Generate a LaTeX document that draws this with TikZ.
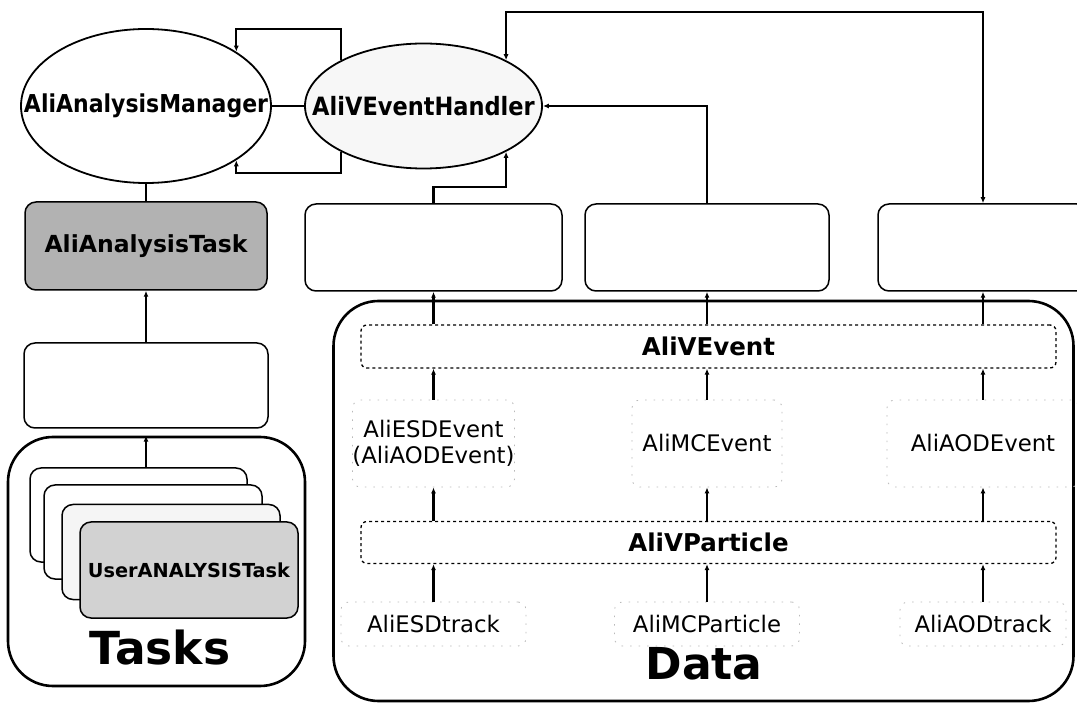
\documentclass[tikz,border=0pt]{standalone}
\usepackage{fontspec}
\setmainfont{DejaVu Sans}
\usetikzlibrary{arrows.meta,shapes.geometric}
\begin{document}
\begin{tikzpicture}[x=1pt,y=-1pt,
  conn/.style={line width=2.2pt},
  arr/.style={conn,-{Latex[length=6pt,width=5pt]}},
  biarr/.style={conn,{Latex[length=6pt,width=5pt]}-{Latex[length=6pt,width=5pt]}},
  ell/.style={draw,ellipse,line width=1.8pt,inner sep=0pt},
  rbox/.style={draw,rounded corners=11pt,line width=1.5pt,inner sep=0pt},
  bar/.style={draw,rounded corners=6pt,line width=1.3pt,dashed,inner sep=0pt,font=\bfseries\fontsize{24.5}{28}\selectfont},
  cont/.style={draw,rounded corners=45pt,line width=2.6pt,inner sep=0pt},
  faint/.style={draw=gray!55,rounded corners=8pt,line width=0.8pt,dash pattern=on 1.5pt off 7pt,inner sep=0pt},
  bl/.style={font=\bfseries\fontsize{22}{26}\selectfont},
  rl/.style={font=\fontsize{22.8}{25.5}\selectfont,align=center},
  bigl/.style={font=\bfseries\fontsize{45.5}{50}\selectfont},
]
\path[use as bounding box,fill=white] (0,0) rectangle (1077,708);

% ellipses
\node[ell,minimum width=250pt,minimum height=154pt] (aam) at (146,106) {};
\node[ell,fill=gray!6,minimum width=237pt,minimum height=125pt] (aveh) at (423.5,106) {};
\node[bl] (aamt) at (aam) {\scalebox{1}[1.12]{AliAnalysisManager}};
\node[bl,font=\bfseries\fontsize{22.5}{26}\selectfont] (aveht) at (aveh) {\scalebox{1}[1.12]{AliVEventHandler}};

% row of boxes
\node[rbox,minimum width=257pt,minimum height=87pt] (boxA) at (433.5,247.5) {};
\node[rbox,minimum width=244pt,minimum height=87pt] (boxB) at (707,247.5) {};
\node[rbox,minimum width=210pt,minimum height=87pt] (boxC) at (983,247.5) {};

% tasks column
\node[rbox,fill=gray!60,minimum width=242pt,minimum height=88pt,font=\bfseries\fontsize{23.5}{27}\selectfont] (task) at (146,246) {AliAnalysisTask};
\node[rbox,minimum width=244pt,minimum height=85pt] (mid) at (146,385.5) {};
\node[cont,minimum width=297pt,minimum height=249pt] (tasks) at (156.5,561.5) {};
\node[rbox,fill=white,minimum width=217pt,minimum height=94pt] (c1) at (138.5,515) {};
\node[rbox,fill=white,minimum width=218pt,minimum height=94pt] (c2) at (153,532) {};
\node[rbox,fill=gray!8,minimum width=218pt,minimum height=95pt] (c3) at (171,552) {};
\node[rbox,fill=gray!35,minimum width=218pt,minimum height=96pt,font=\bfseries\fontsize{19.3}{23}\selectfont] (c4) at (189,570) {UserANALYSISTask};
\node[bigl] (tasksl) at (160,648) {Tasks};

% data
\node[cont,minimum width=740pt,minimum height=400pt] (data) at (703.5,501) {};
\node[bar,minimum width=695pt,minimum height=43pt] (ev) at (708.5,346.5) {AliVEvent};
\node[bar,minimum width=695pt,minimum height=42pt] (vp) at (708.5,542.5) {AliVParticle};
\node[faint,rl,minimum width=140pt,minimum height=87pt] (esd) at (433.5,443.5) {AliESDEvent\\(AliAODEvent)};
\node[faint,rl,minimum width=150pt,minimum height=87pt] (mc) at (707,443.5) {AliMCEvent};
\node[faint,rl,minimum width=192pt,minimum height=87pt] (aod) at (983,443.5) {AliAODEvent};
\node[faint,rl,minimum width=185pt,minimum height=44pt] (esdt) at (433.5,624) {AliESDtrack};
\node[faint,rl,minimum width=185pt,minimum height=44pt] (mcp) at (707,624) {AliMCParticle};
\node[faint,rl,minimum width=166pt,minimum height=44pt] (aodt) at (983,624) {AliAODtrack};
\node[bigl,font=\bfseries\fontsize{44}{48}\selectfont] (datal) at (704,664) {Data};

% connectors top
\draw[conn] (aam.east) -- (aveh.west);
\draw[arr] (aveh.151) -- (aveh.151 |- 0,29) -| (aam.31);
\draw[arr] (aveh.209) -- (aveh.209 |- 0,173) -| (aam.-31);
\draw[conn] (aam.south) -- (task.north);
\draw[arr] (boxB.north) |- (aveh.east);
\draw[biarr] (aveh.29) -- (aveh.29 |- 0,12) -| (boxC.north);
\draw[arr] (boxA.north) -- (boxA.north |- 0,187) -| (aveh.-29);

% tasks connectors
\draw[arr] (mid.north) -- (task.south);
\draw[arr] (c1.north -| mid.south) -- (tasks.north -| mid.south);

% data connectors
\foreach \b/\e/\t in {boxA/esd/esdt, boxB/mc/mcp, boxC/aod/aodt}{
  \draw[arr] (\b.south |- ev.north) -- (\b.south);
  \draw[arr] (\e.north) -- (ev.south -| \e.north);
  \draw[arr] (vp.north -| \e.south) -- (\e.south);
  \draw[arr] (\t.north) -- (vp.south -| \t.north);
}
\end{tikzpicture}
\end{document}
